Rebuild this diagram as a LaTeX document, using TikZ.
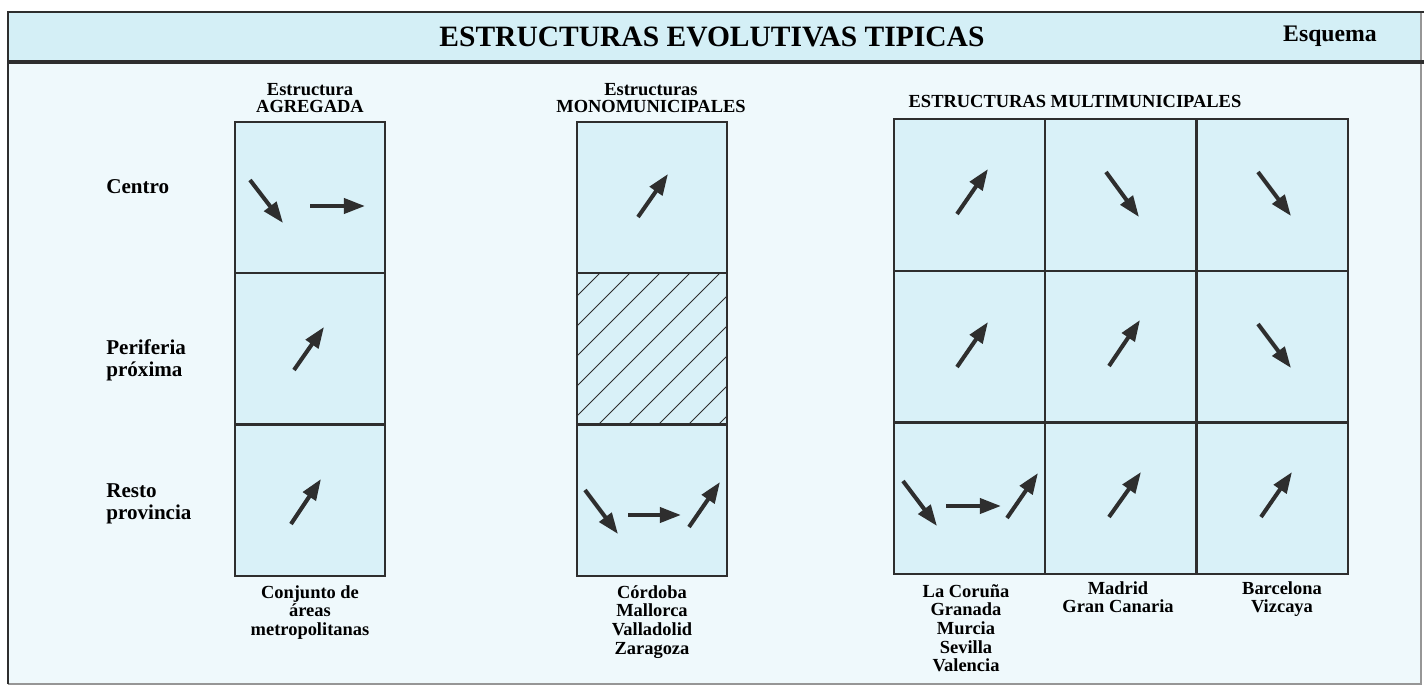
\documentclass[tikz,border=0pt]{standalone}
\usepackage{fontspec}
\setmainfont{Liberation Serif}
\usepackage{xcolor}
\usepackage{tikz}
\usetikzlibrary{arrows.meta,positioning,calc}

\definecolor{fondo}{HTML}{EFF9FC}
\definecolor{banda}{HTML}{D4EFF6}
\definecolor{celda}{HTML}{D9F1F8}
\definecolor{trazo}{HTML}{2E2E2E}

\begin{document}
\begin{tikzpicture}[x=0.02cm, y=-0.02cm,
    flecha/.style={line width=2.3pt, draw=trazo, -{Triangle[length=12pt,width=8.5pt]}},
    caja/.style={draw=trazo, line width=0.8pt},
    fila/.style={font=\fontsize{12}{12.5}\selectfont\bfseries, align=left, anchor=west, inner sep=0pt},
    cabeza/.style={font=\fontsize{10.5}{10}\selectfont\bfseries, align=center, inner sep=0pt},
    pie/.style={font=\fontsize{10.5}{10.6}\selectfont\bfseries, align=center, anchor=north, inner sep=0pt}]
    \useasboundingbox (0,0) rectangle (1424,687);
    \fill[white] (0,0) rectangle (1424,687);
    \fill[fondo] (8,12) rectangle (1421,684); % Fondo
    \fill[banda] (8,12) rectangle (1421,62); % Banda del titulo
    \draw[trazo!50, line width=0.6pt] (1421,12) -- (1421,684) -- (8,684);
    \draw[trazo, line width=0.7pt] (8,684) -- (8,12) -- (1424,12);
    \draw[trazo, line width=1.8pt] (8,62) -- (1424,62);

    \node[font=\fontsize{16.8}{18}\selectfont\bfseries] (titulo) at (712,37) {ESTRUCTURAS EVOLUTIVAS TIPICAS};
    \node[font=\fontsize{13.5}{15}\selectfont\bfseries] (esquema) at (1330,36) {Esquema};

    % Filas
    \node[fila] (centro) at (106,187) {Centro};
    \node[fila] (periferia) at (106,360) {Periferia\\próxima};
    \node[fila] (resto) at (106,504) {Resto\\provincia};

    % Cabeceras
    \node[cabeza] (agregada) at (310,98) {Estructura\\AGREGADA};
    \node[cabeza] (mono) at (651,98) {Estructuras\\MONOMUNICIPALES};
    \node[cabeza] (multi) at (1075,101) {ESTRUCTURAS MULTIMUNICIPALES};

    % Estructura agregada
    \fill[celda] (235,122) rectangle (385,576);
    \foreach \y in {122,273,425} \draw[caja] (235,\y) rectangle (385,\y+151);
    \draw[flecha] (250,180) -- (283,223);
    \draw[flecha] (310,206) -- (365,206);
    \draw[flecha] (294,370) -- (324,327);
    \draw[flecha] (291,524) -- (321,479);

    % Estructuras monomunicipales
    \fill[celda] (577,122) rectangle (727,576);
    \begin{scope}
        \clip (577,273) rectangle (727,425);
        \foreach \x in {418,448,...,748} \draw[trazo, line width=0.5pt] (\x,425) -- ++(152,-152);
    \end{scope}
    \foreach \y in {122,273,425} \draw[caja] (577,\y) rectangle (727,\y+151);
    \draw[flecha] (638,217) -- (668,174);
    \draw[flecha] (585,490) -- (618,534);
    \draw[flecha] (628,515) -- (681,515);
    \draw[flecha] (689,527) -- (720,482);

    % Estructuras multimunicipales
    \fill[celda] (894,119) rectangle (1348,574);
    \foreach \x in {894,1045,1197} \foreach \y in {119,271,422} \draw[caja] (\x,\y) rectangle ++(151,152);
    \draw[flecha] (957,214) -- (988,169);
    \draw[flecha] (1106,172) -- (1139,217);
    \draw[flecha] (1258,172) -- (1291,216);
    \draw[flecha] (957,367) -- (988,322);
    \draw[flecha] (1109,366) -- (1140,320);
    \draw[flecha] (1258,324) -- (1291,368);
    \draw[flecha] (903,481) -- (937,526);
    \draw[flecha] (946,506) -- (1001,506);
    \draw[flecha] (1007,518) -- (1038,473);
    \draw[flecha] (1109,517) -- (1141,472);
    \draw[flecha] (1261,517) -- (1292,472);

    % Pies
    \node[pie] (areas) at (310,585) {Conjunto de\\áreas\\metropolitanas};
    \node[pie] (cordoba) at (652,585) {Córdoba\\Mallorca\\Valladolid\\Zaragoza};
    \node[pie] (coruna) at (966,584) {La Coruña\\Granada\\Murcia\\Sevilla\\Valencia};
    \node[pie] (madrid) at (1118,581) {Madrid\\Gran Canaria};
    \node[pie] (barcelona) at (1282,581) {Barcelona\\Vizcaya};
\end{tikzpicture}
\end{document}
